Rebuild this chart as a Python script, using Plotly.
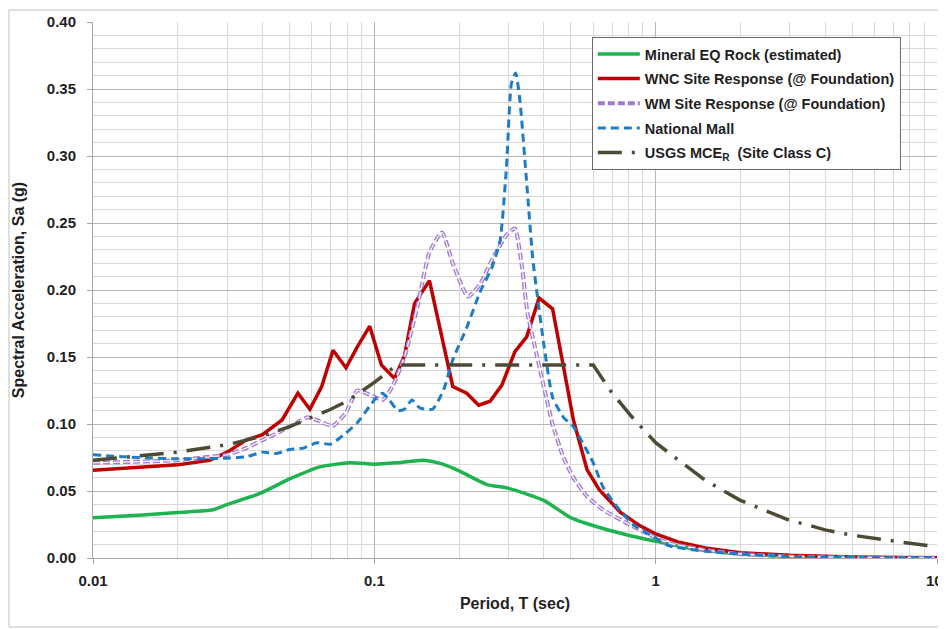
import plotly.graph_objects as go

# ---------------- data ----------------
mineral_T = [0.01, 0.015, 0.02, 0.0267, 0.03, 0.039, 0.05, 0.064, 0.082, 0.1, 0.12, 0.15,
             0.175, 0.2, 0.25, 0.3, 0.4, 0.5, 0.65, 0.8, 1.0, 1.3, 1.6, 2.0, 3.0, 4.0, 5.0, 7.5, 10.0]
mineral_Sa = [0.030, 0.032, 0.034, 0.036, 0.040, 0.048, 0.059, 0.068, 0.071, 0.070, 0.071, 0.073,
              0.070, 0.065, 0.055, 0.052, 0.043, 0.030, 0.022, 0.017, 0.0125, 0.0075, 0.005, 0.003,
              0.0015, 0.0008, 0.0005, 0.0002, 0.0001]

wnc_T = [0.01, 0.015, 0.02, 0.026, 0.03, 0.035, 0.040, 0.047, 0.0535, 0.059, 0.065, 0.0713,
         0.0793, 0.0867, 0.0963, 0.106, 0.118, 0.128, 0.139, 0.157, 0.19, 0.213, 0.235, 0.258,
         0.284, 0.316, 0.348, 0.385, 0.43, 0.47, 0.51, 0.57, 0.63, 0.75, 0.88, 1.0, 1.2, 1.5,
         2.0, 3.0, 4.0, 5.0, 7.0, 10.0]
wnc_Sa = [0.0655, 0.068, 0.0695, 0.073, 0.079, 0.088, 0.092, 0.103, 0.123, 0.111, 0.128, 0.155,
          0.142, 0.157, 0.173, 0.144, 0.134, 0.151, 0.190, 0.207, 0.128, 0.123, 0.114, 0.117,
          0.129, 0.154, 0.165, 0.194, 0.186, 0.143, 0.103, 0.066, 0.051, 0.034, 0.024, 0.018,
          0.012, 0.0075, 0.004, 0.002, 0.0012, 0.0008, 0.0004, 0.0002]

wm_T = [0.01, 0.015, 0.02, 0.026, 0.03, 0.035, 0.04, 0.045, 0.053, 0.058, 0.064, 0.071, 0.079,
        0.087, 0.096, 0.107, 0.116, 0.128, 0.142, 0.157, 0.174, 0.19, 0.215, 0.237, 0.264, 0.295,
        0.316, 0.335, 0.35, 0.37, 0.40, 0.43, 0.47, 0.51, 0.57, 0.65, 0.79, 0.98, 1.12, 1.5, 2.0,
        3.0, 5.0, 10.0]
wm_Sa = [0.071, 0.072, 0.073, 0.0755, 0.077, 0.082, 0.088, 0.093, 0.101, 0.105, 0.102, 0.0985,
         0.108, 0.125, 0.122, 0.118, 0.128, 0.150, 0.187, 0.228, 0.243, 0.220, 0.195, 0.204,
         0.224, 0.241, 0.246, 0.217, 0.183, 0.160, 0.128, 0.100, 0.075, 0.060, 0.046, 0.036,
         0.026, 0.016, 0.011, 0.006, 0.003, 0.0012, 0.0004, 0.0001]

mall_T = [0.01, 0.013, 0.02, 0.03, 0.035, 0.04, 0.045, 0.05, 0.056, 0.0625, 0.07, 0.079, 0.087,
          0.096, 0.102, 0.107, 0.113, 0.121, 0.128, 0.136, 0.145, 0.161, 0.176, 0.19, 0.213,
          0.237, 0.262, 0.28, 0.295, 0.307, 0.318, 0.329, 0.348, 0.365, 0.38, 0.40, 0.43, 0.47,
          0.51, 0.55, 0.6, 0.65, 0.73, 0.83, 0.98, 1.12, 1.5, 2.0, 3.0, 5.0, 10.0]
mall_Sa = [0.077, 0.0755, 0.074, 0.0745, 0.0755, 0.079, 0.078, 0.081, 0.082, 0.086, 0.085, 0.093,
           0.101, 0.113, 0.120, 0.123, 0.118, 0.110, 0.111, 0.118, 0.112, 0.111, 0.125, 0.148,
           0.172, 0.198, 0.217, 0.237, 0.292, 0.354, 0.362, 0.342, 0.280, 0.225, 0.195, 0.160,
           0.120, 0.105, 0.098, 0.086, 0.071, 0.053, 0.038, 0.025, 0.016, 0.009, 0.005, 0.003,
           0.001, 0.0003, 0.0001]

usgs_T = [0.01, 0.02, 0.03, 0.04, 0.05, 0.06, 0.07, 0.08, 0.1, 0.12, 0.2, 0.3, 0.4, 0.5, 0.6,
          0.69, 0.81, 1.0, 1.33, 1.5, 2.0, 2.5, 3.0, 3.5, 4.0, 5.0, 6.0, 7.0, 8.0, 10.0]
usgs_Sa = [0.073, 0.079, 0.0845, 0.091, 0.098, 0.105, 0.111, 0.117, 0.131, 0.144, 0.144, 0.144,
           0.144, 0.144, 0.144, 0.125, 0.107, 0.086, 0.066, 0.058, 0.043, 0.035, 0.028, 0.0245,
           0.021, 0.017, 0.0145, 0.0125, 0.011, 0.0085]

x_tick_vals = [0.01, 0.1, 1, 10]
x_tick_text = ["0.01", "0.1", "1", ""]   # label for 10 is placed as an annotation so it stays visible
x_last_text = "10"

# ---------------- figure ----------------
FONT = "Liberation Sans, Arial, sans-serif"
TXT = "#1f1f1f"

fig = go.Figure()

fig.add_trace(go.Scatter(x=mineral_T, y=mineral_Sa, mode="lines", name="Mineral EQ Rock (estimated)",
                         legendgroup="g1",
                         line=dict(color="#1DB34F", width=3.5, shape="spline", smoothing=0.6)))
fig.add_trace(go.Scatter(x=wnc_T, y=wnc_Sa, mode="lines", name="WNC Site Response (@ Foundation)",
                         legendgroup="g2",
                         line=dict(color="#C00000", width=3.5)))
fig.add_trace(go.Scatter(x=wm_T, y=wm_Sa, mode="lines", name="WM Site Response (@ Foundation)",
                         legendgroup="g3",
                         line=dict(color="#A07AD0", width=4, dash="7px,3px", shape="spline", smoothing=0.5)))
fig.add_trace(go.Scatter(x=wm_T, y=wm_Sa, mode="lines", showlegend=False, hoverinfo="skip",
                         legendgroup="g3",
                         line=dict(color="#F3ECFA", width=1.4, dash="7px,3px", shape="spline", smoothing=0.5)))
fig.add_trace(go.Scatter(x=mall_T, y=mall_Sa, mode="lines", name="National Mall",
                         legendgroup="g4",
                         line=dict(color="#1F7BC6", width=3, dash="8px,5px", shape="spline", smoothing=0.5)))
fig.add_trace(go.Scatter(x=usgs_T, y=usgs_Sa, mode="lines", name="USGS MCE<sub>R</sub>  (Site Class C)",
                         legendgroup="g5",
                         line=dict(color="#4D4A36", width=3.5, dash="24px,10px,3px,10px")))

minor_x = [m * 10.0 ** e for e in (-2, -1, 0) for m in range(2, 10)]

# the page body adds an 8px offset, so margins are shifted to compensate
fig.update_layout(
    width=946, height=629,
    margin=dict(l=85, r=17, t=14, b=79, autoexpand=False),
    paper_bgcolor="white", plot_bgcolor="white",
    font=dict(family=FONT, color=TXT),
    showlegend=True,
    legend=dict(
        x=0.591, y=0.972, xanchor="left", yanchor="top",
        bgcolor="white", bordercolor="#6b6b6b", borderwidth=1,
        font=dict(family=FONT, size=14.5, color=TXT, weight="bold"),
        itemwidth=42, tracegroupgap=2.8, groupclick="toggleitem",
    ),
    xaxis=dict(
        type="log", range=[-2, 1], automargin=False,
        tickvals=x_tick_vals, ticktext=x_tick_text,
        showgrid=True, gridcolor="#b8b8b8", gridwidth=1,
        minor=dict(tickvals=minor_x, showgrid=True, gridcolor="#d9d9d9", gridwidth=1, ticks=""),
        showline=True, linecolor="#a6a6a6", linewidth=1,
        ticks="outside", ticklen=5, tickcolor="#a6a6a6",
        ticklabelstandoff=4,
        tickfont=dict(family=FONT, size=15, color=TXT, weight="bold"),
        title=dict(text="Period, T (sec)", standoff=9,
                   font=dict(family=FONT, size=16, color=TXT, weight="bold")),
        zeroline=False,
    ),
    yaxis=dict(
        range=[0, 0.40], dtick=0.05, tick0=0, tickformat=".2f", automargin=False,
        showgrid=True, gridcolor="#b8b8b8", gridwidth=1,
        minor=dict(dtick=0.01, showgrid=True, gridcolor="#d9d9d9", gridwidth=1, ticks=""),
        showline=True, linecolor="#a6a6a6", linewidth=1,
        ticks="outside", ticklen=5, tickcolor="#a6a6a6",
        ticklabelstandoff=8,
        tickfont=dict(family=FONT, size=15, color=TXT, weight="bold"),
        title=dict(text="Spectral Acceleration, Sa (g)", standoff=18,
                   font=dict(family=FONT, size=16, color=TXT, weight="bold")),
        zeroline=False,
    ),
)

# last x tick label (kept inside the visible page)
fig.add_annotation(x=1, y=0, xref="x", yref="y", text=x_last_text, showarrow=False,
                   xanchor="center", yanchor="top", xshift=-3, yshift=-12,
                   font=dict(family=FONT, size=15, color=TXT, weight="bold"))

# outer chart border
fig.add_shape(type="rect", xref="paper", yref="paper",
              x0=(9 - 93) / 844, x1=(944 - 93) / 844, y0=(558 - 627) / 536, y1=(558 - 10) / 536,
              line=dict(color="#bfbfbf", width=1), fillcolor="rgba(0,0,0,0)", layer="below")

fig.write_html("out.html")
